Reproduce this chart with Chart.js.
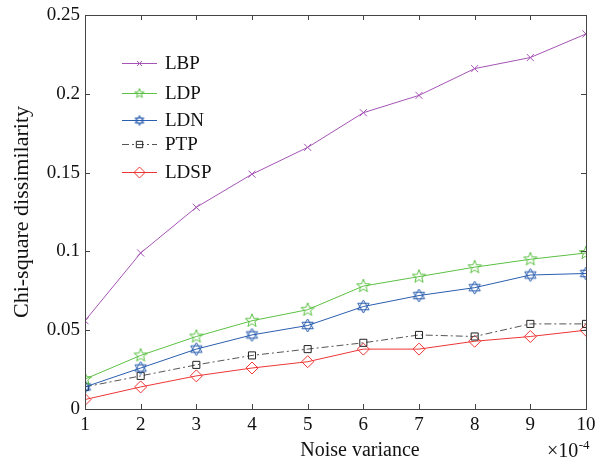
<!DOCTYPE html>
<html><head><meta charset="utf-8">
<script src="https://cdn.jsdelivr.net/npm/chart.js@4.4.1/dist/chart.umd.min.js"></script>
<style>html,body{margin:0;padding:0;background:#fff}</style>
</head><body>
<canvas id="c" width="596" height="461"></canvas>
<script>
const noiseVariance = [1,2,3,4,5,6,7,8,9,10];
const seriesNames = ["LBP","LDP","LDN","PTP","LDSP"];
const lbp  = [0.056,0.099,0.128,0.149,0.166,0.188,0.199,0.216,0.223,0.238];
const ldp  = [0.019,0.034,0.046,0.056,0.063,0.078,0.084,0.090,0.095,0.099];
const ldn  = [0.014,0.026,0.038,0.047,0.053,0.065,0.072,0.077,0.085,0.086];
const ptp  = [0.014,0.021,0.028,0.034,0.038,0.042,0.047,0.046,0.054,0.054];
const ldsp = [0.006,0.014,0.021,0.026,0.030,0.038,0.038,0.043,0.046,0.050];
const yTickLabels = ["0","0.05","0.1","0.15","0.2","0.25"];
const xTickLabels = ["1","2","3","4","5","6","7","8","9","10"];
const xAxisTitle = "Noise variance";
const yAxisTitle = "Chi-square dissimilarity";

function starImg(color, type, size){
  const c = document.createElement('canvas');
  c.width = size; c.height = size;
  const g = c.getContext('2d');
  g.strokeStyle = color; g.lineWidth = 1;
  const cx = size/2, cy = size/2, R = size/2 - 1;
  g.beginPath();
  if (type === 'penta') {
    const r = R*0.42;
    for (let i=0;i<10;i++){
      const a = -Math.PI/2 + i*Math.PI/5;
      const rr = i%2===0 ? R : r;
      const x = cx + rr*Math.cos(a), y = cy + rr*Math.sin(a);
      if(i===0) g.moveTo(x,y); else g.lineTo(x,y);
    }
    g.closePath();
  } else {
    for (let t=0;t<2;t++){
      for (let i=0;i<3;i++){
        const a = (t===0 ? -Math.PI/2 : Math.PI/2) + i*2*Math.PI/3;
        const x = cx + R*Math.cos(a), y = cy + R*Math.sin(a);
        if(i===0) g.moveTo(x,y); else g.lineTo(x,y);
      }
      g.closePath();
    }
  }
  g.stroke();
  return c;
}

const colors = {LBP:'#a454b4', LDP:'#5cc044', LDN:'#2a5eae', PTP:'#333333', LDSP:'#ee3535'};
const pentaImg = starImg(colors.LDP,'penta',16);
const hexaImg = starImg(colors.LDN,'hexa',15);
const pentaSmall = starImg(colors.LDP,'penta',12);
const hexaSmall = starImg(colors.LDN,'hexa',12);

const sets = [
  {label:'LBP', data:lbp, borderColor:colors.LBP, pointStyle:'crossRot', pointRadius:5, legendStyle:'crossRot', legendRadius:3.5},
  {label:'LDP', data:ldp, borderColor:colors.LDP, pointStyle:pentaImg, pointRadius:7, legendStyle:pentaSmall, legendRadius:5},
  {label:'LDN', data:ldn, borderColor:colors.LDN, pointStyle:hexaImg, pointRadius:7, legendStyle:hexaSmall, legendRadius:5},
  {label:'PTP', data:ptp, borderColor:'#555555', pointBorderColor:'#222222', pointStyle:'rect', pointRadius:5, borderDash:[7,3,2,3], legendStyle:'rect', legendRadius:4.5},
  {label:'LDSP', data:ldsp, borderColor:colors.LDSP, pointStyle:'rectRot', pointRadius:6, legendStyle:'rectRot', legendRadius:5.5}
];

const datasets = sets.map(s => ({
  label: s.label,
  data: s.data.map((v,i)=>({x:noiseVariance[i], y:v})),
  borderColor: s.borderColor,
  backgroundColor: 'transparent',
  pointBorderColor: s.pointBorderColor || s.borderColor,
  pointBackgroundColor: 'transparent',
  pointStyle: s.pointStyle,
  pointRadius: s.pointRadius,
  pointHoverRadius: s.pointRadius,
  pointBorderWidth: 1,
  borderWidth: 1,
  borderDash: s.borderDash || [],
  tension: 0,
  fill: false
}));

const SERIF = "'Liberation Serif', 'DejaVu Serif', serif";

const framePlugin = {
  id:'frame',
  afterDraw(chart){
    const {ctx, chartArea:a, scales} = chart;
    ctx.save();
    ctx.strokeStyle = '#444'; ctx.lineWidth = 1;
    ctx.strokeRect(Math.round(a.left)+0.5, Math.round(a.top)+0.5, Math.round(a.right-a.left), Math.round(a.bottom-a.top));
    const L = 5;
    ctx.beginPath();
    noiseVariance.forEach(v=>{
      const x = Math.round(scales.x.getPixelForValue(v))+0.5;
      ctx.moveTo(x,a.bottom); ctx.lineTo(x,a.bottom-L);
      ctx.moveTo(x,a.top); ctx.lineTo(x,a.top+L);
    });
    yTickLabels.forEach(t=>{
      const y = Math.round(scales.y.getPixelForValue(parseFloat(t)))+0.5;
      ctx.moveTo(a.left,y); ctx.lineTo(a.left+L,y);
      ctx.moveTo(a.right,y); ctx.lineTo(a.right-L,y);
    });
    ctx.stroke();
    ctx.fillStyle = '#111';
    // x axis title
    ctx.font = "20px " + SERIF;
    ctx.textAlign = 'center';
    ctx.textBaseline = 'alphabetic';
    ctx.fillText(xAxisTitle, 360, 456);
    // exponent label
    ctx.textAlign = 'left';
    ctx.font = "20px " + SERIF;
    const base = '\u00d710';
    ctx.fillText(base, 547, 457);
    const w = ctx.measureText(base).width;
    ctx.font = "13px " + SERIF;
    ctx.fillText('-4', 547 + w + 0.5, 449);
    // legend
    const rows = [63, 93, 120, 144, 172];
    sets.forEach((s,i)=>{
      const ds = chart.data.datasets[i];
      const y = rows[i];
      ctx.save();
      ctx.strokeStyle = ds.borderColor;
      ctx.lineWidth = 1;
      ctx.setLineDash(ds.borderDash||[]);
      ctx.beginPath(); ctx.moveTo(122,y+0.5); ctx.lineTo(157,y+0.5); ctx.stroke();
      ctx.setLineDash([]);
      ctx.strokeStyle = ds.pointBorderColor;
      ctx.fillStyle = 'rgba(0,0,0,0)';
      Chart.helpers.drawPoint(ctx, {pointStyle: s.legendStyle, radius: s.legendRadius, borderWidth:1, rotation:0}, 139.5, y+0.5);
      ctx.restore();
      ctx.fillStyle = '#111';
      ctx.font = "19px " + SERIF;
      ctx.textAlign = 'left';
      ctx.textBaseline = 'middle';
      ctx.fillText(ds.label, 165, y+1);
    });
    ctx.restore();
  }
};

new Chart(document.getElementById('c'), {
  type:'line',
  data:{datasets},
  options:{
    responsive:false,
    animation:false,
    devicePixelRatio:1,
    layout:{padding:{top:15, right:10, left:0, bottom:0}},
    plugins:{legend:{display:false}, tooltip:{enabled:false}},
    scales:{
      x:{
        type:'linear', min:1, max:10,
        grid:{display:false, drawTicks:false}, border:{display:false},
        ticks:{stepSize:1, color:'#111', font:{family:SERIF, size:19}, padding:5, maxRotation:0,
               callback:(v)=> xTickLabels[noiseVariance.indexOf(v)] ?? ''},
        title:{display:false},
        afterFit(s){ s.height = 52; s.paddingLeft = 0; s.paddingRight = 0; }
      },
      y:{
        type:'linear', min:0, max:0.25,
        grid:{display:false, drawTicks:false}, border:{display:false},
        ticks:{stepSize:0.05, color:'#111', font:{family:SERIF, size:19}, padding:5,
               callback:(v)=>{ const i = Math.round(v/0.05); return yTickLabels[i] ?? ''; }},
        title:{display:true, text:yAxisTitle, color:'#111', font:{family:SERIF, size:22}, padding:{top:9,bottom:0}},
        afterFit(s){ s.width = 85; s.paddingTop = 0; s.paddingBottom = 0; }
      }
    }
  },
  plugins:[framePlugin]
});
</script>
</body></html>
